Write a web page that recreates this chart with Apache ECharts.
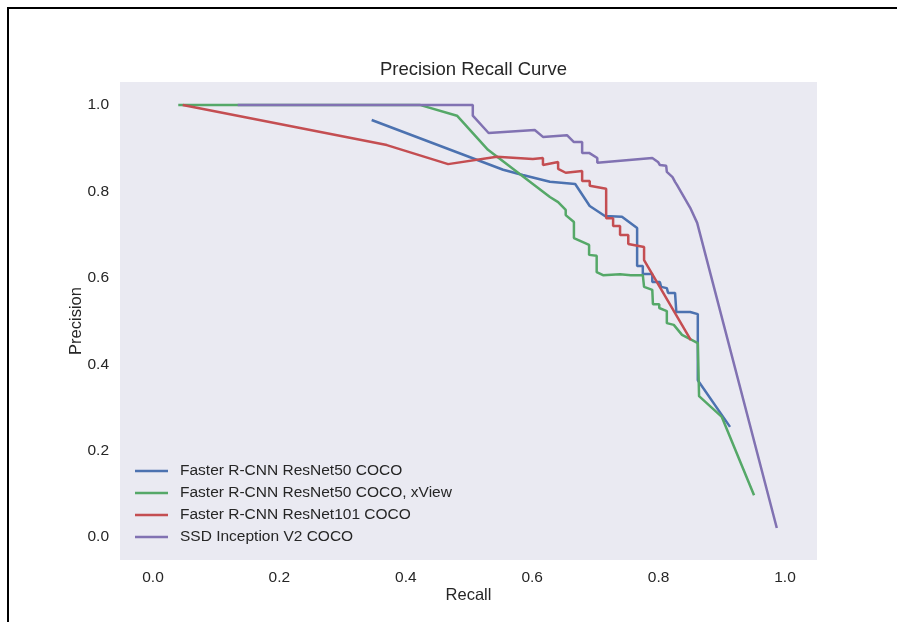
<!DOCTYPE html>
<html>
<head>
<meta charset="utf-8">
<script src="https://cdn.jsdelivr.net/npm/echarts@6/dist/echarts.min.js"></script>
<style>
html,body{margin:0;padding:0;background:#fff;overflow:hidden;}
#chart{position:absolute;left:0;top:0;width:897px;height:622px;}
#frame{position:absolute;left:7px;top:7px;width:1000px;height:1000px;border:2.5px solid #000;pointer-events:none;}
</style>
</head>
<body>
<div id="chart"></div>
<div id="frame"></div>
<script>
const seriesNames = ["Faster R-CNN ResNet50 COCO","Faster R-CNN ResNet50 COCO, xView","Faster R-CNN ResNet101 COCO","SSD Inception V2 COCO"];
const xTicks = [0.0,0.2,0.4,0.6,0.8,1.0];
const yTicks = [0.0,0.2,0.4,0.6,0.8,1.0];

const r50Recall    = [0.346,0.554,0.585,0.628,0.668,0.691,0.715,0.742,0.766,0.766,0.775,0.775,0.790,0.790,0.802,0.804,0.813,0.815,0.826,0.828,0.850,0.862,0.862,0.913];
const r50Precision = [0.965,0.850,0.838,0.822,0.817,0.766,0.743,0.741,0.715,0.627,0.627,0.609,0.609,0.590,0.590,0.579,0.576,0.565,0.565,0.521,0.521,0.516,0.363,0.255];

const xvRecall    = [0.040,0.422,0.481,0.530,0.628,0.641,0.653,0.653,0.666,0.666,0.690,0.690,0.702,0.702,0.712,0.739,0.756,0.775,0.777,0.790,0.791,0.801,0.801,0.813,0.813,0.824,0.837,0.850,0.862,0.864,0.900,0.951];
const xvPrecision = [1.000,1.000,0.975,0.896,0.787,0.775,0.757,0.745,0.729,0.692,0.676,0.653,0.651,0.613,0.606,0.608,0.606,0.606,0.579,0.572,0.539,0.539,0.530,0.523,0.495,0.491,0.468,0.458,0.449,0.326,0.278,0.097];

const r101Recall    = [0.047,0.370,0.467,0.544,0.601,0.617,0.617,0.641,0.641,0.653,0.679,0.679,0.691,0.691,0.717,0.717,0.728,0.728,0.739,0.739,0.752,0.752,0.777,0.777,0.851];
const r101Precision = [1.000,0.907,0.863,0.880,0.875,0.877,0.861,0.868,0.852,0.843,0.847,0.824,0.824,0.813,0.806,0.738,0.738,0.720,0.720,0.699,0.699,0.678,0.671,0.641,0.456];

const ssdRecall    = [0.134,0.506,0.506,0.531,0.604,0.617,0.655,0.666,0.679,0.679,0.690,0.703,0.703,0.790,0.799,0.802,0.812,0.813,0.822,0.826,0.829,0.850,0.861,0.987];
const ssdPrecision = [1.000,1.000,0.975,0.935,0.942,0.926,0.930,0.914,0.914,0.889,0.889,0.877,0.866,0.877,0.868,0.861,0.859,0.845,0.833,0.822,0.815,0.762,0.727,0.021];

const colors = ["#4C72B0","#55A868","#C44E52","#8172B2"];
const recalls = [r50Recall, xvRecall, r101Recall, ssdRecall];
const precisions = [r50Precision, xvPrecision, r101Precision, ssdPrecision];

const FONT = "'Liberation Sans', Arial, sans-serif";
const chart = echarts.init(document.getElementById('chart'));
const series = seriesNames.map((name, i) => ({
  name: name,
  type: 'line',
  data: recalls[i].map((x, j) => [x, precisions[i][j]]),
  symbol: 'none',
  showSymbol: false,
  lineStyle: {color: colors[i], width: 2.5},
  itemStyle: {color: colors[i]},
  animation: false
}));

chart.setOption({
  animation: false,
  backgroundColor: '#ffffff',
  title: {
    text: 'Precision Recall Curve',
    left: 468.5, top: 55, textAlign: 'center',
    textStyle: {fontFamily: FONT, fontSize: 18.5, fontWeight: 'normal', color: '#262626'}
  },
  grid: {left: 120, right: 80, top: 82, bottom: 62, show: true, backgroundColor: '#EAEAF2', borderWidth: 0},
  legend: {
    orient: 'vertical', left: 130, top: 457,
    icon: 'rect',
    itemWidth: 33, itemHeight: 2.5, itemGap: 4,
    data: seriesNames,
    textStyle: {fontFamily: FONT, fontSize: 15.5, lineHeight: 18, color: '#262626', padding: [0,0,0,7]}
  },
  xAxis: {
    type: 'value', min: -0.0522, max: 1.0506,
    name: 'Recall', nameLocation: 'middle', nameGap: 27, nameMoveOverlap: false,
    nameTextStyle: {fontFamily: FONT, fontSize: 16.5, color: '#262626'},
    axisLine: {show: false}, axisTick: {show: false}, splitLine: {show: false},
    axisLabel: {customValues: xTicks, formatter: v => v.toFixed(1), margin: 10,
      fontFamily: FONT, fontSize: 15.5, color: '#262626'}
  },
  yAxis: {
    type: 'value', min: -0.053, max: 1.053,
    name: 'Precision', nameLocation: 'middle', nameGap: 35, nameRotate: 90, nameMoveOverlap: false,
    nameTextStyle: {fontFamily: FONT, fontSize: 16.5, color: '#262626'},
    axisLine: {show: false}, axisTick: {show: false}, splitLine: {show: false},
    axisLabel: {customValues: yTicks, formatter: v => v.toFixed(1), margin: 11,
      fontFamily: FONT, fontSize: 15.5, color: '#262626'}
  },
  series: series
});
</script>
</body>
</html>
